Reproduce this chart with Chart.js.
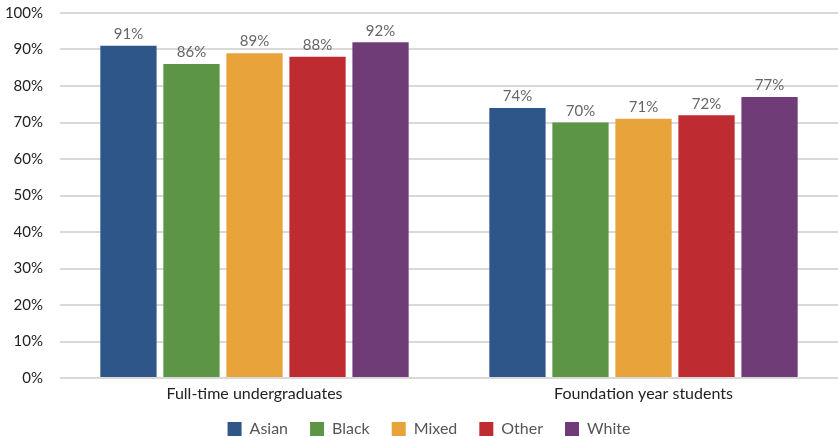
<!DOCTYPE html>
<html>
<head>
<meta charset="utf-8">
<script src="https://cdn.jsdelivr.net/npm/chart.js@4/dist/chart.umd.min.js"></script>
<style>
  html, body { margin: 0; padding: 0; background: #fff; }
  #wrap { width: 838px; height: 437px; position: relative; }
</style>
</head>
<body>
<div id="wrap"><canvas id="c"></canvas></div>
<script>
const categories = ["Full-time undergraduates", "Foundation year students"];
const seriesNames = ["Asian", "Black", "Mixed", "Other", "White"];
const asian = [91, 74];
const black = [86, 70];
const mixed = [89, 71];
const other = [88, 72];
const white = [92, 77];
const yTicks = [0, 10, 20, 30, 40, 50, 60, 70, 80, 90, 100];

const colors = ["#2F5689", "#5B9545", "#E8A33A", "#BE2B30", "#6F3C78"];
const seriesValues = [asian, black, mixed, other, white];
const FONT = "Lato, 'Open Sans', sans-serif";

// Draws the percentage above each bar
const valueLabels = {
  id: "valueLabels",
  afterDatasetsDraw(chart) {
    const ctx = chart.ctx;
    ctx.save();
    ctx.font = "15px " + FONT;
    ctx.fillStyle = "#666666";
    ctx.textAlign = "center";
    ctx.textBaseline = "bottom";
    chart.data.datasets.forEach((ds, i) => {
      chart.getDatasetMeta(i).data.forEach((bar, j) => {
        ctx.fillText(ds.data[j] + "%", bar.x, bar.y - 4);
      });
    });
    ctx.restore();
  }
};

// Fixed legend band at the bottom, items nudged up and right
const legendPlacement = {
  id: "legendPlacement",
  beforeInit(chart) {
    const origFit = chart.legend.fit;
    chart.legend.fit = function () {
      origFit.call(this);
      this.height = 29;
    };
  },
  afterLayout(chart) {
    const lg = chart.legend;
    lg.top -= 9;
    lg.left += 10; lg.right += 10;
  }
};

new Chart(document.getElementById("c"), {
  type: "bar",
  data: {
    labels: categories,
    datasets: seriesNames.map((name, i) => ({
      label: name,
      data: seriesValues[i],
      backgroundColor: colors[i],
      borderWidth: 0,
      categoryPercentage: 0.81,
      barPercentage: 0.893
    }))
  },
  options: {
    responsive: true,
    maintainAspectRatio: false,
    animation: false,
    layout: { padding: { top: 13, right: 0, left: 0, bottom: 0 } },
    plugins: {
      tooltip: { enabled: false },
      legend: {
        position: "bottom",
        labels: {
          boxWidth: 14,
          boxHeight: 14,
          padding: 22,
          color: "#555555",
          font: { family: FONT, size: 16 }
        }
      }
    },
    scales: {
      x: {
        grid: { display: false, drawTicks: false },
        border: { display: false },
        afterFit(scale) { scale.height = 30; },
        ticks: { color: "#222222", font: { family: FONT, size: 16 }, padding: 6 }
      },
      y: {
        min: 0,
        max: 100,
        afterBuildTicks(axis) { axis.ticks = yTicks.map(v => ({ value: v })); },
        afterFit(scale) {
          scale.width = 60;
          scale.paddingTop = 0;
          scale.paddingBottom = 0;
        },
        grid: { color: "#d9d9d9", lineWidth: 2, drawTicks: false },
        border: { display: false },
        ticks: {
          color: "#222222",
          font: { family: FONT, size: 15 },
          padding: 17,
          callback: v => v + "%"
        }
      }
    }
  },
  plugins: [valueLabels, legendPlacement]
});
</script>
</body>
</html>
